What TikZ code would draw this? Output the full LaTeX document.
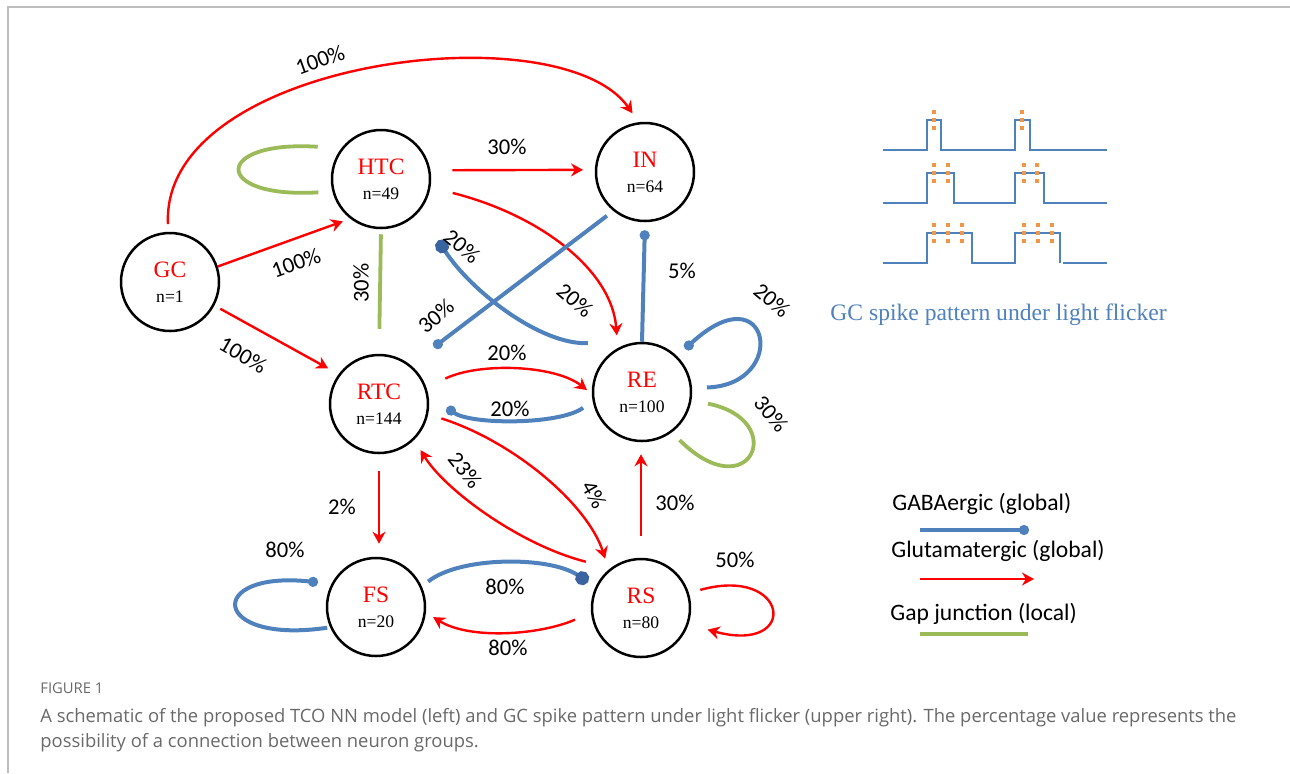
\documentclass[tikz,border=0pt]{standalone}
\usepackage{fontspec}
\setmainfont{Liberation Serif}
\newfontfamily\calfont{Carlito}
\newfontfamily\capfont{Open Sans}
\usetikzlibrary{arrows.meta,calc}

\definecolor{NeuRed}{RGB}{255,0,0}
\definecolor{GabaBlue}{RGB}{79,129,189}
\definecolor{DotBlue}{RGB}{58,100,160}
\definecolor{GapGreen}{RGB}{155,187,89}
\definecolor{SpikeOrange}{RGB}{240,150,70}
\definecolor{FrameGray}{RGB}{190,190,190}
\definecolor{CapGray}{RGB}{105,105,105}

\newcommand{\grouplab}[2]{{\color{NeuRed}\fontsize{11.75}{12}\selectfont #1}\\{n=#2}}

\begin{document}
\begin{tikzpicture}[x=0.5pt,y=0.5pt,
  neuron/.style={circle,draw,line width=1.25pt,minimum size=49pt,inner sep=0pt,
    align=center,font=\fontsize{8.8}{12.5}\selectfont},
  glu/.style={NeuRed,line width=1.2pt,-{Stealth[length=6pt,width=6.5pt]}},
  gaba/.style={GabaBlue,line width=2pt,-{Circle[length=5pt,fill=GabaBlue]}},
  gababig/.style={GabaBlue,line width=2pt,-{Circle[length=7pt,fill=DotBlue,color=DotBlue]}},
  gap/.style={GapGreen,line width=1.9pt},
  pct/.style={font=\calfont\fontsize{11.3}{12}\selectfont},
  legtxt/.style={font=\calfont\fontsize{11.8}{13}\selectfont,anchor=base west,inner sep=0pt},
  captxt/.style={anchor=base west,inner sep=0pt,text=CapGray},
  spike/.style={GabaBlue,line width=0.75pt}]
  \useasboundingbox (0,-773) rectangle (1290,0);
  \draw[FrameGray,line width=0.7pt] (8,-773) -- (8,-7) -- (1290,-7);

  \node[neuron] (GC) at (170,-282) {\grouplab{GC}{1}};
  \node[neuron] (HTC) at (381,-179) {\grouplab{HTC}{49}};
  \node[neuron] (IN) at (645,-172) {\grouplab{IN}{64}};
  \node[neuron] (RTC) at (379,-404) {\grouplab{RTC}{144}};
  \node[neuron] (RE) at (642,-392) {\grouplab{RE}{100}};
  \node[neuron] (FS) at (376,-607) {\grouplab{FS}{20}};
  \node[neuron] (RS) at (641,-608) {\grouplab{RS}{80}};

  \draw[glu] ($(GC)+(92:58)$) .. controls (160,-60) and (560,-10) .. ($(IN)+(102:60)$);
  \draw[glu] ($(GC)+(18:50)$) -- ($(HTC)+(228:57)$);
  \draw[glu] ($(GC)+(-28:57)$) -- ($(RTC)+(145:62)$);
  \draw[gap] ($(HTC)+(153:71)$) .. controls (212,-140) and (212,-199) .. ($(HTC)+(192:64)$);
  \draw[gap,shorten <=2.5pt,shorten >=12.5pt] (HTC.south) -- (RTC.north);
  \draw[glu] ($(HTC)+(7:72)$) -- ($(IN)+(178:62)$);
  \draw[glu] ($(HTC)+(-11:73)$) .. controls (540,-215) and (612,-270) .. ($(RE)+(114:62)$);
  \draw[gaba] ($(IN)+(229:58)$) -- ($(RTC)+(46:79)$);
  \draw[gababig] ($(RE)+(138:73)$) .. controls (540,-345) and (470,-290) .. ($(HTC)+(-47:84)$);
  \draw[gaba,shorten >=4pt] (RE.north) -- (IN.south);
  \draw[gaba] ($(RE)+(4:65)$) .. controls (790,-385) and (770,-270) .. ($(RE)+(45:61)$);
  \draw[gap] ($(RE)+(-10:67)$) .. controls (790,-420) and (750,-510) .. ($(RE)+(-52:61)$);
  \draw[glu] ($(RTC)+(21:71)$) .. controls (480,-362) and (555,-365) .. ($(RE)+(178:55)$);
  \draw[gaba] ($(RE)+(195:61)$) .. controls (560,-425) and (470,-425) .. ($(RTC)+(-3:68)$);
  \draw[glu,shorten <=8.5pt,shorten >=6.5pt] (RTC.south) -- (RTC.south |- FS.north);
  \draw[glu] ($(RTC)+(-13:64)$) .. controls (515,-442) and (588,-505) .. ($(RS)+(126:61)$);
  \draw[glu] ($(RS)+(140:72)$) .. controls (520,-545) and (445,-490) .. ($(RTC)+(-48:62)$);
  \draw[glu,shorten <=11pt,shorten >=6pt] (RS.north) -- (RS.north |- RE.south);
  \draw[glu] ($(RS)+(17:62)$) .. controls (790,-565) and (800,-655) .. ($(RS)+(-18:70)$);
  \draw[gababig] ($(FS)+(26:58)$) .. controls (460,-556) and (550,-556) .. ($(RS)+(154:59)$);
  \draw[glu] ($(RS)+(190:67)$) .. controls (540,-635) and (470,-640) .. ($(FS)+(-10:58)$);
  \draw[gaba] ($(FS)+(203:53)$) .. controls (210,-645) and (205,-570) .. ($(FS)+(157:63)$);

  \node[pct,rotate=20] (pGCIN) at (320,-60) {100\%};
  \node[pct,rotate=20] (pGCHTC) at (296,-263) {100\%};
  \node[pct,rotate=-30] (pGCRTC) at (243,-355) {100\%};
  \node[pct,rotate=90] (pHTCRTC) at (361,-283) {30\%};
  \node[pct] (pHTCIN) at (507,-147) {30\%};
  \node[pct,rotate=-40] (pHTCRE) at (575,-300) {20\%};
  \node[pct,rotate=-40] (pREHTC) at (462,-246) {20\%};
  \node[pct,rotate=40] (pINRTC) at (436,-316) {30\%};
  \node[pct] (pREIN) at (682,-271) {5\%};
  \node[pct,rotate=-40] (pRERE) at (772,-300) {20\%};
  \node[pct,rotate=-50] (pREgap) at (771,-414) {30\%};
  \node[pct] (pRTCRE) at (507,-353) {20\%};
  \node[pct] (pRERTC) at (510,-409) {20\%};
  \node[pct] (pRTCFS) at (342,-507) {2\%};
  \node[pct,rotate=-60] (pRTCRS) at (594,-495) {4\%};
  \node[pct,rotate=-52] (pRSRTC) at (465,-470) {23\%};
  \node[pct] (pRSRE) at (675,-503) {30\%};
  \node[pct] (pRSRS) at (735,-560) {50\%};
  \node[pct] (pFSRS) at (505,-587) {80\%};
  \node[pct] (pRSFS) at (508,-648) {80\%};
  \node[pct] (pFSFS) at (285,-550) {80\%};

  \draw[spike] (883,-150) -| (927,-120) -| (941,-150) -| (1015,-120) -| (1030,-150) -- (1107,-150);
  \draw[spike] (883,-203) -| (927,-173) -| (954,-203) -| (1015,-173) -| (1044,-203) -- (1107,-203);
  \draw[spike] (883,-263) -| (927,-233) -| (972,-263) -| (1015,-233) -| (1060,-263);
  \draw[spike] (1063,-263) -- (1107,-263);
  \foreach \x/\y in {934/120,1022/120,934/173,948/173,1024/173,1037/173,
                     934/233,948/233,962/233,1024/233,1038/233,1052/233} {
    \foreach \d in {-8,0,8}
      \fill[SpikeOrange] (\x-2,\d-\y-2.2) rectangle ++(4,4.4);
  }
  \node[anchor=base west,inner sep=0pt,text=GabaBlue,font=\fontsize{11.8}{13}\selectfont]
    (spikecap) at (830,-320) {GC spike pattern under light flicker};

  \node[legtxt] (legGaba) at (892,-510) {GABAergic (global)};
  \draw[gaba] (920,-530) -- (1029,-530);
  \node[legtxt] (legGlu) at (891,-557) {Glutamatergic (global)};
  \draw[glu] (920,-579) -- (1034,-579);
  \node[legtxt] (legGap) at (890,-620) {Gap junction (local)};
  \draw[gap] (920,-634) -- (1028,-634);

  \node[captxt,font=\capfont\fontsize{7.4}{8}\selectfont] (figno) at (40,-693) {FIGURE 1};
  \node[captxt,font=\capfont\fontsize{9.2}{11}\selectfont] (capA) at (40,-722)
    {A schematic of the proposed TCO NN model (left) and GC spike pattern under light flicker (upper right). The percentage value represents the};
  \node[captxt,font=\capfont\fontsize{9.2}{11}\selectfont] (capB) at (40,-747)
    {possibility of a connection between neuron groups.};
\end{tikzpicture}
\end{document}
